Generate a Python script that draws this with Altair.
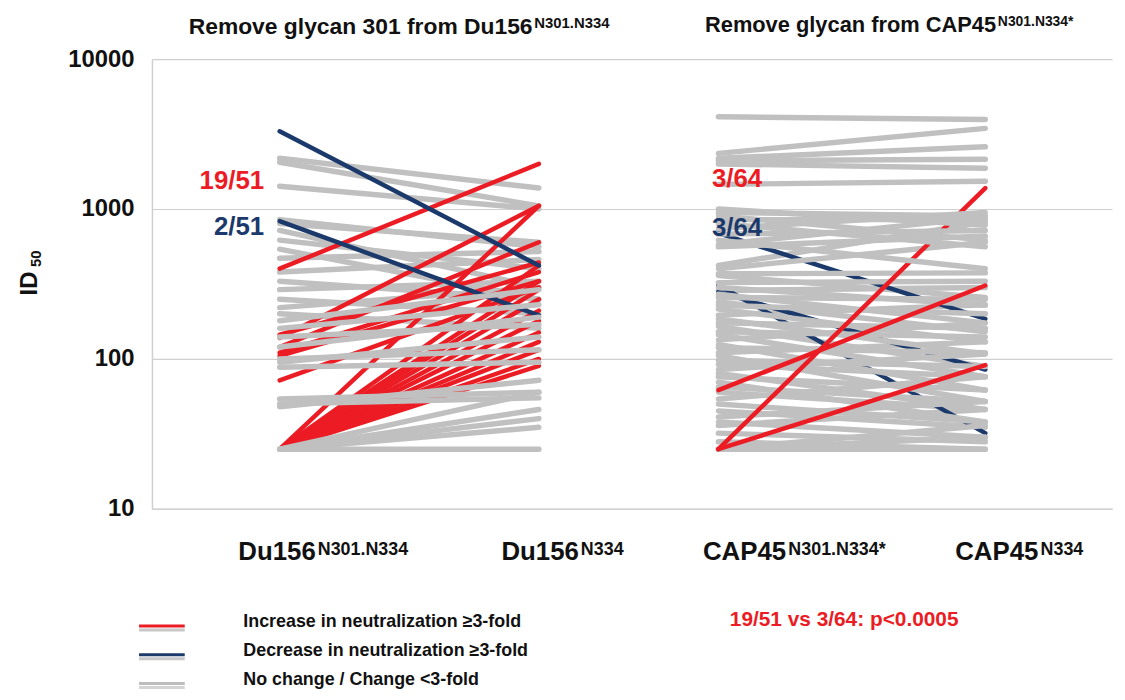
import altair as alt
import pandas as pd

# ---------------- data ----------------
categories = ["Du156 N301.N334", "Du156 N334", "CAP45 N301.N334*", "CAP45 N334"]
slot = [13.3, 40.3, 59.0, 86.8]          # x positions of the four categories (0-100 axis)

# Left panel: Du156 N301.N334 -> Du156 N334
du_inc_before = [400, 138, 25, 120, 25, 110, 145, 72, 25, 25, 25, 25, 25, 25, 25, 25, 25, 25, 105]
du_inc_after = [2000, 1050, 1050, 600, 420, 380, 440, 300, 330, 290, 250, 210, 180, 150, 130, 115, 100, 90, 330]
du_dec_before = [3300, 830]
du_dec_after = [420, 195]
du_nc_before = [2180, 2050, 1420, 850, 800, 720, 620, 540, 470, 380, 330, 290, 250, 220, 200,
                180, 160, 140, 120, 100, 95, 88, 54, 50, 48, 25, 25, 25, 25, 25]
du_nc_after = [1380, 1050, 1000, 560, 600, 300, 400, 250, 520, 460, 250, 330, 200, 300, 160,
               290, 230, 170, 190, 115, 140, 95, 60, 55, 72, 46, 40, 25, 60, 35]

# Right panel: CAP45 N301.N334* -> CAP45 N334
cap_inc_before = [25, 62, 25]
cap_inc_after = [1380, 309, 91]
cap_dec_before = [690, 310, 280]
cap_dec_after = [185, 32, 85]
cap_nc_top_before = [4130, 2350, 2180, 2100, 2000, 1460]
cap_nc_top_after = [3950, 3450, 2600, 2150, 1870, 1530]
cap_nc_band_before = [1000, 950, 900, 850, 800, 740, 680, 620, 580, 560]
cap_nc_band_after = [780, 900, 620, 850, 560, 950, 720, 400, 880, 660]
cap_nc_low_before = [420, 400, 370, 360, 323, 300, 286, 270, 257, 240, 228, 215, 196, 185, 174,
                     165, 152, 145, 134, 125, 119, 110, 105, 98, 92, 85, 80, 76, 70, 65,
                     60, 54, 50, 45, 41, 38, 36, 32, 28, 25, 25, 25]
cap_nc_low_after = [820, 600, 375, 257, 330, 228, 300, 174, 250, 152, 200, 130, 230, 108, 160,
                    89, 140, 76, 174, 62, 110, 130, 52, 89, 76, 108, 46, 62, 38, 52,
                    46, 76, 38, 35, 52, 30, 46, 28, 25, 25, 30, 36]

RED = "#ec1c24"
BLUE = "#1b3a6b"
GRAY = "#c0c0c0"

rows = []
lid = 0


def add(before, after, p0, p1, step):
    global lid
    for b, a in zip(before, after):
        rows.append({"id": lid, "pos": slot[p0], "value": b, "step": step})
        rows.append({"id": lid, "pos": slot[p1], "value": a, "step": step})
        lid += 1


low_a_b = cap_nc_low_before[0::3]
low_a_a = cap_nc_low_after[0::3]
low_b_b = [v for i, v in enumerate(cap_nc_low_before) if i % 3]
low_b_a = [v for i, v in enumerate(cap_nc_low_after) if i % 3]

# draw order (steps) so that lines overlap like in the original
add(du_nc_before[:15], du_nc_after[:15], 0, 1, 1)
add(du_inc_before, du_inc_after, 0, 1, 2)
add(du_dec_before[1:], du_dec_after[1:], 0, 1, 3)
add(du_nc_before[15:], du_nc_after[15:], 0, 1, 4)
add(du_dec_before[:1], du_dec_after[:1], 0, 1, 5)
add(low_a_b, low_a_a, 2, 3, 6)
add(cap_dec_before, cap_dec_after, 2, 3, 7)
add(low_b_b + cap_nc_top_before, low_b_a + cap_nc_top_after, 2, 3, 8)
add(cap_inc_before, cap_inc_after, 2, 3, 9)
add(cap_nc_band_before, cap_nc_band_after, 2, 3, 10)

df = pd.DataFrame(rows)

FONT = "Liberation Sans"
OX, OY = 153, 57   # page position of plot origin

x_enc = alt.X("pos:Q", scale=alt.Scale(domain=[0, 100], nice=False, zero=False),
              axis=alt.Axis(labels=False, ticks=False, grid=False, domainColor="#cfcfcf",
                            domainWidth=1.5, title=None))
y_enc = alt.Y("value:Q", scale=alt.Scale(type="log", domain=[10, 10000], nice=False),
              axis=alt.Axis(values=[10, 100, 1000, 10000], format="d", title=None,
                            labelFont=FONT, labelFontSize=24, labelFontWeight="bold",
                            labelColor="#111111", labelPadding=18, ticks=False,
                            domainColor="#cfcfcf", domainWidth=1.5,
                            gridColor="#d0d0d0", gridWidth=1.2))

GW = 5.5
step_style = {1: (GRAY, GW), 2: (RED, 4.5), 3: (BLUE, 4.5), 4: (GRAY, GW), 5: (BLUE, 4.5),
              6: (GRAY, GW), 7: (BLUE, 4.5), 8: (GRAY, GW), 9: (RED, 4.5), 10: (GRAY, GW)}

layers = []
for s, (col, w) in step_style.items():
    layers.append(
        alt.Chart(df).transform_filter(alt.datum.step == s)
        .mark_line(color=col, strokeWidth=w, strokeCap="round")
        .encode(x=x_enc, y=y_enc, detail="id:N")
    )


def txt(s, px, py, size, color="#111111", align="left", weight="bold", angle=0, baseline="alphabetic"):
    kw = dict(text=s, font=FONT, fontSize=size, fontWeight=weight, color=color,
              align=align, baseline=baseline)
    if angle:
        kw["angle"] = angle
    return alt.Chart(pd.DataFrame({"a": [0]})).mark_text(**kw).encode(
        x=alt.value(px - OX), y=alt.value(py - OY))


def leg_line(px0, px1, py, color, w):
    return alt.Chart(pd.DataFrame({"a": [0]})).mark_rule(color=color, strokeWidth=w).encode(
        x=alt.value(px0 - OX), x2=alt.value(px1 - OX), y=alt.value(py - OY))


texts = [
    # panel titles
    txt("Remove glycan 301 from Du156", 190, 32, 23),
    txt("N301.N334", 538, 26, 15),
    txt("Remove glycan from CAP45", 710, 30, 22),
    txt("N301.N334*", 1005, 24, 14),
    # y title
    txt("ID", 30, 283, 24, angle=270, align="center", baseline="middle"),
    txt("50", 36, 258, 15, angle=270, align="center", baseline="middle"),
    # category labels
    txt("Du156", 240, 562, 26),
    txt("N301.N334", 320, 556, 18),
    txt("Du156", 505, 562, 26),
    txt("N334", 585, 556, 18),
    txt("CAP45", 708, 562, 26),
    txt("N301.N334*", 794, 556, 18),
    txt("CAP45", 962, 562, 26),
    txt("N334", 1048, 556, 18),
    # counts
    txt("19/51", 266, 188, 26, color=RED, align="right"),
    txt("2/51", 266, 234, 26, color=BLUE, align="right"),
    txt("3/64", 717, 186, 26, color=RED),
    txt("3/64", 717, 235, 26, color=BLUE),
    # legend
    txt("Increase in neutralization \u22653-fold", 245, 629, 18),
    txt("Decrease in neutralization \u22653-fold", 245, 658, 18),
    txt("No change / Change <3-fold", 245, 687, 18),
    txt("19/51 vs 3/64: p<0.0005", 735, 628, 21, color=RED),
]

legend = [
    leg_line(140, 186, 632, "#c8c8c8", 3),
    leg_line(140, 186, 628, RED, 3),
    leg_line(140, 186, 661, "#c8c8c8", 3),
    leg_line(140, 186, 657, BLUE, 3),
    leg_line(140, 186, 690, "#d4d4d4", 3),
    leg_line(140, 186, 686, "#bdbdbd", 3),
]

chart = alt.layer(*layers, *legend, *texts).properties(
    width=967, height=453,
    autosize=alt.AutoSizeParams(type="none"),
    padding={"left": OX - 8, "top": OY - 8, "right": 5, "bottom": 185},
    background="white",
).configure_view(stroke=None)

chart.save("out.html", embed_options={"renderer": "svg", "actions": False})
